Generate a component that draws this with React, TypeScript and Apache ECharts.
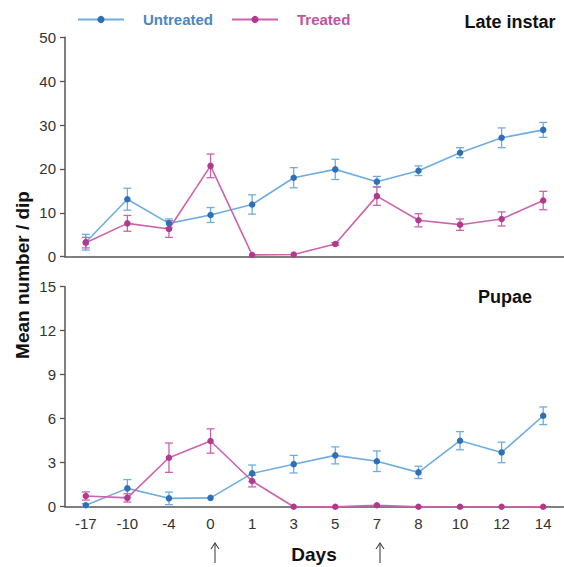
import React, { useEffect, useRef } from "react";
import * as echarts from "echarts";

const days = ["-17", "-10", "-4", "0", "1", "3", "5", "7", "8", "10", "12", "14"];

const lateUntreated = [3.3, 13.1, 7.6, 9.5, 11.9, 18.0, 19.9, 17.1, 19.6, 23.7, 27.1, 28.9];
const lateUntreatedErr = [1.8, 2.5, 1.0, 1.7, 2.2, 2.3, 2.3, 1.2, 1.1, 1.15, 2.25, 1.7];
const lateTreated = [3.2, 7.6, 6.3, 20.7, 0.4, 0.5, 2.9, 13.8, 8.3, 7.3, 8.6, 12.8];
const lateTreatedErr = [1.2, 1.8, 1.9, 2.7, 0, 0, 0.3, 2.1, 1.5, 1.3, 1.6, 2.1];

const pupaeUntreated = [0.1, 1.25, 0.57, 0.6, 2.27, 2.9, 3.5, 3.1, 2.34, 4.5, 3.7, 6.2];
const pupaeUntreatedErr = [0.1, 0.6, 0.43, 0, 0.57, 0.6, 0.58, 0.7, 0.42, 0.62, 0.7, 0.6];
const pupaeTreated = [0.73, 0.6, 3.34, 4.48, 1.75, 0, 0, 0.1, 0, 0, 0, 0];
const pupaeTreatedErr = [0.28, 0.28, 1.0, 0.83, 0.4, 0, 0, 0, 0, 0, 0, 0];

const lateTicks = { min: 0, max: 50, interval: 10 };
const pupaeTicks = { min: 0, max: 15, interval: 3 };

const blueLine = "#6fade0";
const blueDot = "#2f6fb8";
const pinkLine = "#cc63ad";
const pinkDot = "#b23a8e";
const axisColor = "#555555";
const font = "Liberation Sans, Arial, sans-serif";

function errData(vals: number[], errs: number[]) {
  return vals.map((v, i) => [i, v - errs[i], v + errs[i], errs[i]]);
}

function errSeries(name: string, vals: number[], errs: number[], idx: number, color: string) {
  return {
    type: "custom",
    name: name + "-err",
    xAxisIndex: idx,
    yAxisIndex: idx,
    silent: true,
    z: 1,
    data: errData(vals, errs),
    renderItem: (params: any, api: any) => {
      if (api.value(3) <= 0) return { type: "group", children: [] };
      const x = api.value(0);
      const lo = api.coord([x, api.value(1)]);
      const hi = api.coord([x, api.value(2)]);
      const h = 4;
      const style = { stroke: color, lineWidth: 1.3 };
      return {
        type: "group",
        children: [
          { type: "line", shape: { x1: lo[0], y1: lo[1], x2: hi[0], y2: hi[1] }, style },
          { type: "line", shape: { x1: lo[0] - h, y1: lo[1], x2: lo[0] + h, y2: lo[1] }, style },
          { type: "line", shape: { x1: hi[0] - h, y1: hi[1], x2: hi[0] + h, y2: hi[1] }, style },
        ],
      };
    },
  };
}

function lineSeries(name: string, vals: number[], idx: number, line: string, dot: string) {
  return {
    type: "line",
    name,
    xAxisIndex: idx,
    yAxisIndex: idx,
    data: vals,
    symbol: "circle",
    symbolSize: 6.5,
    z: 3,
    lineStyle: { color: line, width: 1.6 },
    itemStyle: { color: dot },
  };
}

export default function App() {
  const ref = useRef<HTMLDivElement>(null);
  useEffect(() => {
    if (!ref.current) return;
    const chart = echarts.init(ref.current, undefined, { renderer: "svg" });
    const yLabel = { color: "#333", fontSize: 15, fontFamily: font, margin: 9 };
    const arrow = (x: number) => ({
      type: "group",
      children: [
        { type: "line", shape: { x1: x, y1: 543, x2: x, y2: 563 }, style: { stroke: "#444", lineWidth: 1.1 } },
        { type: "polyline", shape: { points: [[x - 4, 549], [x, 543], [x + 4, 549]] }, style: { stroke: "#444", lineWidth: 1.1, fill: "none" } },
      ],
    });
    chart.setOption({
      animation: false,
      backgroundColor: "#ffffff",
      legend: {
        left: 72,
        top: 7,
        itemWidth: 46,
        itemHeight: 9,
        itemGap: 18,
        data: [
          { name: "Untreated", textStyle: { color: "#4a86c8" } },
          { name: "Treated", textStyle: { color: "#c452a2" } },
        ],
        textStyle: { fontSize: 15, fontWeight: "bold", fontFamily: font, padding: [0, 0, 0, 14] },
      },
      grid: [
        { left: 65, top: 37.3, width: 501, height: 219.4 },
        { left: 65, top: 286.7, width: 501, height: 220 },
      ],
      xAxis: [
        {
          type: "category",
          gridIndex: 0,
          data: days,
          axisLine: { lineStyle: { color: axisColor, width: 1.5 } },
          axisTick: { show: false },
          axisLabel: { show: false },
        },
        {
          type: "category",
          gridIndex: 1,
          data: days,
          axisLine: { lineStyle: { color: axisColor, width: 1.5 } },
          axisTick: { show: false },
          axisLabel: { color: "#333", fontSize: 15, fontFamily: font, margin: 9 },
        },
      ],
      yAxis: [
        {
          type: "value",
          gridIndex: 0,
          ...lateTicks,
          splitLine: { show: false },
          axisLine: { show: true, lineStyle: { color: axisColor, width: 1.5 } },
          axisTick: { show: true, length: 5, lineStyle: { color: axisColor, width: 1.3 } },
          axisLabel: yLabel,
        },
        {
          type: "value",
          gridIndex: 1,
          ...pupaeTicks,
          splitLine: { show: false },
          axisLine: { show: true, lineStyle: { color: axisColor, width: 1.5 } },
          axisTick: { show: true, length: 5, lineStyle: { color: axisColor, width: 1.3 } },
          axisLabel: yLabel,
        },
      ],
      graphic: [
        { type: "text", x: 510, y: 22, style: { text: "Late instar", font: `bold 18px ${font}`, fill: "#111", align: "center", verticalAlign: "middle" } },
        { type: "text", x: 505, y: 297, style: { text: "Pupae", font: `bold 18px ${font}`, fill: "#111", align: "center", verticalAlign: "middle" } },
        { type: "text", x: 22, y: 275, rotation: Math.PI / 2, style: { text: "Mean number / dip", font: `bold 19px ${font}`, fill: "#111", align: "center", verticalAlign: "middle" } },
        { type: "text", x: 314, y: 554, style: { text: "Days", font: `bold 19px ${font}`, fill: "#111", align: "center", verticalAlign: "middle" } },
        arrow(215),
        arrow(380),
      ],
      series: [
        errSeries("Untreated", lateUntreated, lateUntreatedErr, 0, blueLine),
        errSeries("Treated", lateTreated, lateTreatedErr, 0, pinkLine),
        errSeries("Untreated", pupaeUntreated, pupaeUntreatedErr, 1, blueLine),
        errSeries("Treated", pupaeTreated, pupaeTreatedErr, 1, pinkLine),
        lineSeries("Untreated", lateUntreated, 0, blueLine, blueDot),
        lineSeries("Treated", lateTreated, 0, pinkLine, pinkDot),
        lineSeries("Untreated", pupaeUntreated, 1, blueLine, blueDot),
        lineSeries("Treated", pupaeTreated, 1, pinkLine, pinkDot),
      ],
    });
    return () => chart.dispose();
  }, []);
  return <div ref={ref} style={{ position: "fixed", left: 0, top: 0, width: 564, height: 567 }} />;
}
